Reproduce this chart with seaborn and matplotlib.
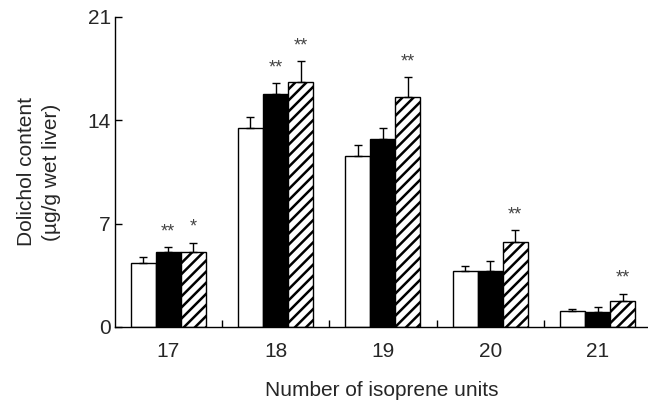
import matplotlib
matplotlib.use("Agg")
import matplotlib.pyplot as plt
import seaborn as sns
import pandas as pd
import numpy as np

categories = ["17", "18", "19", "20", "21"]
groups = ["A", "B", "C"]
vals_a = [4.34, 13.5, 11.6, 3.8, 1.06]
vals_b = [5.1, 15.8, 12.7, 3.8, 1.0]
vals_c = [5.1, 16.6, 15.6, 5.74, 1.78]
err_a = [0.38, 0.7, 0.7, 0.35, 0.18]
err_b = [0.3, 0.7, 0.8, 0.65, 0.33]
err_c = [0.6, 1.4, 1.3, 0.83, 0.48]
stars_a = ["", "", "", "", ""]
stars_b = ["**", "**", "", "", ""]
stars_c = ["*", "**", "**", "**", "**"]
yticks = [0, 7, 14, 21]

sns.set_theme(style="white")
plt.rcParams["font.family"] = ["Liberation Sans", "DejaVu Sans"]
plt.rcParams["hatch.linewidth"] = 1.8

df = pd.DataFrame({
    "cat": categories * 3,
    "grp": [groups[0]] * 5 + [groups[1]] * 5 + [groups[2]] * 5,
    "val": vals_a + vals_b + vals_c,
})

fig = plt.figure(figsize=(6.48, 4.03), dpi=100)
ax = fig.add_axes([0.1775, 0.1886, 0.8225, 0.7694])
sns.barplot(data=df, x="cat", y="val", hue="grp", order=categories,
            hue_order=groups, palette=["white", "black", "white"],
            edgecolor="black", linewidth=1.0, width=0.7, errorbar=None,
            legend=False, ax=ax, saturation=1)

errs = [err_a, err_b, err_c]
stars = [stars_a, stars_b, stars_c]
vals = [vals_a, vals_b, vals_c]
bar_containers = list(ax.containers)[:3]
for i, cont in enumerate(bar_containers):
    for j, bar in enumerate(cont.patches):
        if i == 2:
            bar.set_hatch("///")
        xc = bar.get_x() + bar.get_width() / 2
        ax.errorbar([xc], [vals[i][j]], yerr=[[0], [errs[i][j]]], fmt="none",
                    ecolor="black", elinewidth=1.0, capsize=3, capthick=1.0,
                    zorder=3)
        if stars[i][j]:
            ax.annotate(stars[i][j], (xc, vals[i][j] + errs[i][j]),
                        xytext=(0, 5), textcoords="offset points",
                        ha="center", va="bottom", fontsize=13, color="#444444")

ax.set_xlim(-0.495, 4.47)
ax.set_ylim(0, 21)
ax.set_yticks(yticks)
ax.set_yticklabels([str(t) for t in yticks])
ax.set_xticks(np.arange(len(categories)))
ax.set_xticklabels(categories)
ax.set_xticks(np.arange(len(categories) - 1) + 0.5, minor=True)
ax.tick_params(axis="x", which="major", length=0, labelsize=15, pad=11)
ax.tick_params(axis="x", which="minor", direction="in", length=5, width=1,
               color="black", bottom=True)
ax.tick_params(axis="y", direction="in", length=5, width=1, color="black",
               left=True, labelsize=15, pad=3)
ax.set_xlabel("Number of isoprene units", fontsize=15, labelpad=14)
ax.set_ylabel("Dolichol content\n(\u00b5g/g wet liver)", fontsize=15,
              labelpad=19, linespacing=1.4)
for s in ["top", "right"]:
    ax.spines[s].set_visible(False)
for s in ["left", "bottom"]:
    ax.spines[s].set_color("black")
    ax.spines[s].set_linewidth(1.0)

fig.savefig("out.png", dpi=100)
